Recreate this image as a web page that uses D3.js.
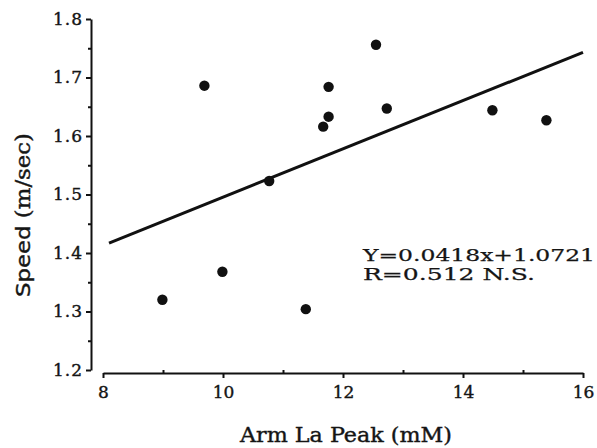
<!DOCTYPE html>
<html>
<head>
<meta charset="utf-8">
<script src="https://d3js.org/d3.v7.min.js"></script>
<style>
  body { margin: 0; background: #fff; }
  text { fill: #151515; stroke: #151515; stroke-width: 0.4px; }
  text.eq { stroke-width: 0.25px; }
</style>
</head>
<body>
<script>
// scatter: arm lactate peak vs speed
var armLa = [9.69, 10.77, 12.55, 11.76, 11.76, 11.67, 12.73, 14.49, 15.39, 8.99, 9.99, 11.38];
var speed = [1.686, 1.523, 1.756, 1.684, 1.633, 1.616, 1.647, 1.644, 1.627, 1.320, 1.368, 1.304];
// fitted line as drawn
var fitX = [8.1, 16];
var fitY = [1.417, 1.743];
var xTicks = [8, 10, 12, 14, 16];
var xMinor = [9, 11, 13, 15];
var yTicks = [1.2, 1.3, 1.4, 1.5, 1.6, 1.7, 1.8];
var yMinor = [1.25, 1.35, 1.45, 1.55, 1.65, 1.75];
var eqLines = ["Y=0.0418x+1.0721", "R=0.512 N.S."];

var width = 597, height = 448;
var svg = d3.select("body").append("svg")
  .attr("width", width)
  .attr("height", height);

var x = d3.scaleLinear().domain([8, 16]).range([103, 583]);
var y = d3.scaleLinear().domain([1.2, 1.8]).range([370, 19]);

var serif = "'DejaVu Serif', serif";

// y axis
var gy = svg.append("g").attr("transform", "translate(91,0)");
gy.call(d3.axisLeft(y).tickValues(yTicks).tickSize(5).tickSizeOuter(0)
  .tickFormat(d3.format(".1f")));
gy.append("g").call(d3.axisLeft(y).tickValues(yMinor).tickSize(3).tickFormat(""))
  .select(".domain").remove();
gy.selectAll("path, line").attr("stroke", "#111").attr("stroke-width", 2);
gy.selectAll("text")
  .attr("font-family", serif)
  .attr("font-size", 17)
  .attr("letter-spacing", 1)
  .attr("x", -8);

// x axis
var gx = svg.append("g").attr("transform", "translate(0,373)");
gx.call(d3.axisBottom(x).tickValues(xTicks).tickSize(5).tickSizeOuter(0)
  .tickFormat(d3.format("d")));
gx.append("g").call(d3.axisTop(x).tickValues(xMinor).tickSize(3).tickFormat(""))
  .select(".domain").remove();
gx.selectAll("path, line").attr("stroke", "#111").attr("stroke-width", 2);
gx.selectAll("text")
  .attr("font-family", serif)
  .attr("font-size", 17)
  .attr("y", 13);

// axis titles
svg.append("text")
  .attr("x", 346)
  .attr("y", 442)
  .attr("text-anchor", "middle")
  .attr("font-family", serif)
  .attr("font-size", 20)
  .attr("textLength", 212)
  .attr("lengthAdjust", "spacingAndGlyphs")
  .text("Arm La Peak (mM)");

var yl = svg.append("text")
  .attr("transform", "translate(30,215) rotate(-90)")
  .attr("text-anchor", "middle")
  .attr("font-size", 20)
  .attr("textLength", 164)
  .attr("lengthAdjust", "spacingAndGlyphs");
yl.append("tspan").attr("font-family", "'DejaVu Sans', sans-serif").text("Speed ");
yl.append("tspan").attr("font-family", serif).text("(m/sec)");

// regression line
svg.append("path")
  .datum(d3.zip(fitX, fitY))
  .attr("fill", "none")
  .attr("stroke", "#111")
  .attr("stroke-width", 3)
  .attr("d", d3.line().x(function (d) { return x(d[0]); }).y(function (d) { return y(d[1]); }));

// points
svg.selectAll("circle")
  .data(d3.zip(armLa, speed))
  .enter()
  .append("circle")
  .attr("cx", function (d) { return x(d[0]); })
  .attr("cy", function (d) { return y(d[1]); })
  .attr("r", 5.2)
  .attr("fill", "#111");

// equation
svg.selectAll(".eq")
  .data(eqLines)
  .enter()
  .append("text")
  .attr("class", "eq")
  .attr("x", 363)
  .attr("y", function (d, i) { return 261 + i * 19; })
  .attr("font-family", serif)
  .attr("font-size", 17)
  .attr("textLength", function (d, i) { return i === 0 ? 232 : 172; })
  .attr("lengthAdjust", "spacingAndGlyphs")
  .text(function (d) { return d; });
</script>
</body>
</html>
